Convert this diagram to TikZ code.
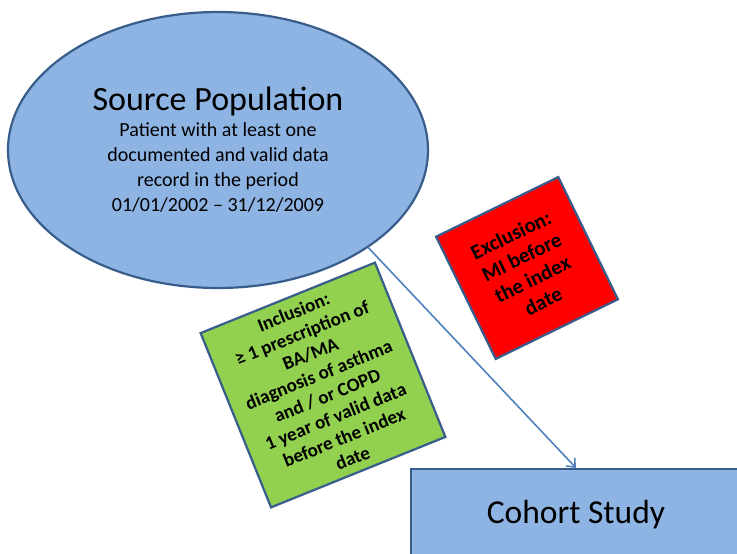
\documentclass[tikz,border=0pt]{standalone}
\usepackage{fontspec}
\setmainfont{Carlito}
\usetikzlibrary{shapes.geometric, arrows.meta}
\definecolor{boxblue}{RGB}{142,180,227}
\definecolor{edgeblue}{RGB}{56,93,138}
\definecolor{arrowblue}{RGB}{79,129,189}
\definecolor{boxgreen}{RGB}{146,208,80}

\begin{document}
\begin{tikzpicture}[x=1pt, y=-1pt,
    box/.style={draw=edgeblue, line width=2.2pt, align=center, inner sep=2pt},
    crit/.style={box, minimum size=#1, font=\fontsize{19}{22.5}\selectfont\bfseries}]
    \useasboundingbox (0,0) rectangle (737,554);
    \clip (0,0) rectangle (737,554);
    % source population
    \node[box, ellipse, fill=boxblue, minimum width=420pt, minimum height=276pt,
        font=\fontsize{20}{25}\selectfont] (src) at (218,150)
        {{\fontsize{34}{36}\selectfont Source Population}\\[1pt]
         Patient with at least one\\ documented and valid data\\
         record in the period\\ 01/01/2002 -- 31/12/2009};
    % criteria
    \node[crit=188pt, fill=boxgreen, rotate=22] (incl) at (323,385)
        {Inclusion:\\ ≥ 1 prescription of\\ BA/MA\\ diagnosis of asthma\\
         and / or COPD\\ 1 year of valid data\\ before the index\\ date};
    \node[crit=136pt, fill=red, rotate=26, font=\fontsize{21}{24.5}\selectfont\bfseries] (excl) at (527,268)
        {Exclusion:\\ MI before\\ the index\\ date};
    % cohort
    \node[box, fill=boxblue, minimum width=330pt, minimum height=92pt,
        font=\fontsize{33.5}{38}\selectfont] (cohort) at (576,515) {Cohort Study};
    \draw[arrowblue, line width=1.6pt, -{Straight Barb[length=7pt, width=12pt]}]
        (src.-33) -- (cohort.north);
\end{tikzpicture}
\end{document}
